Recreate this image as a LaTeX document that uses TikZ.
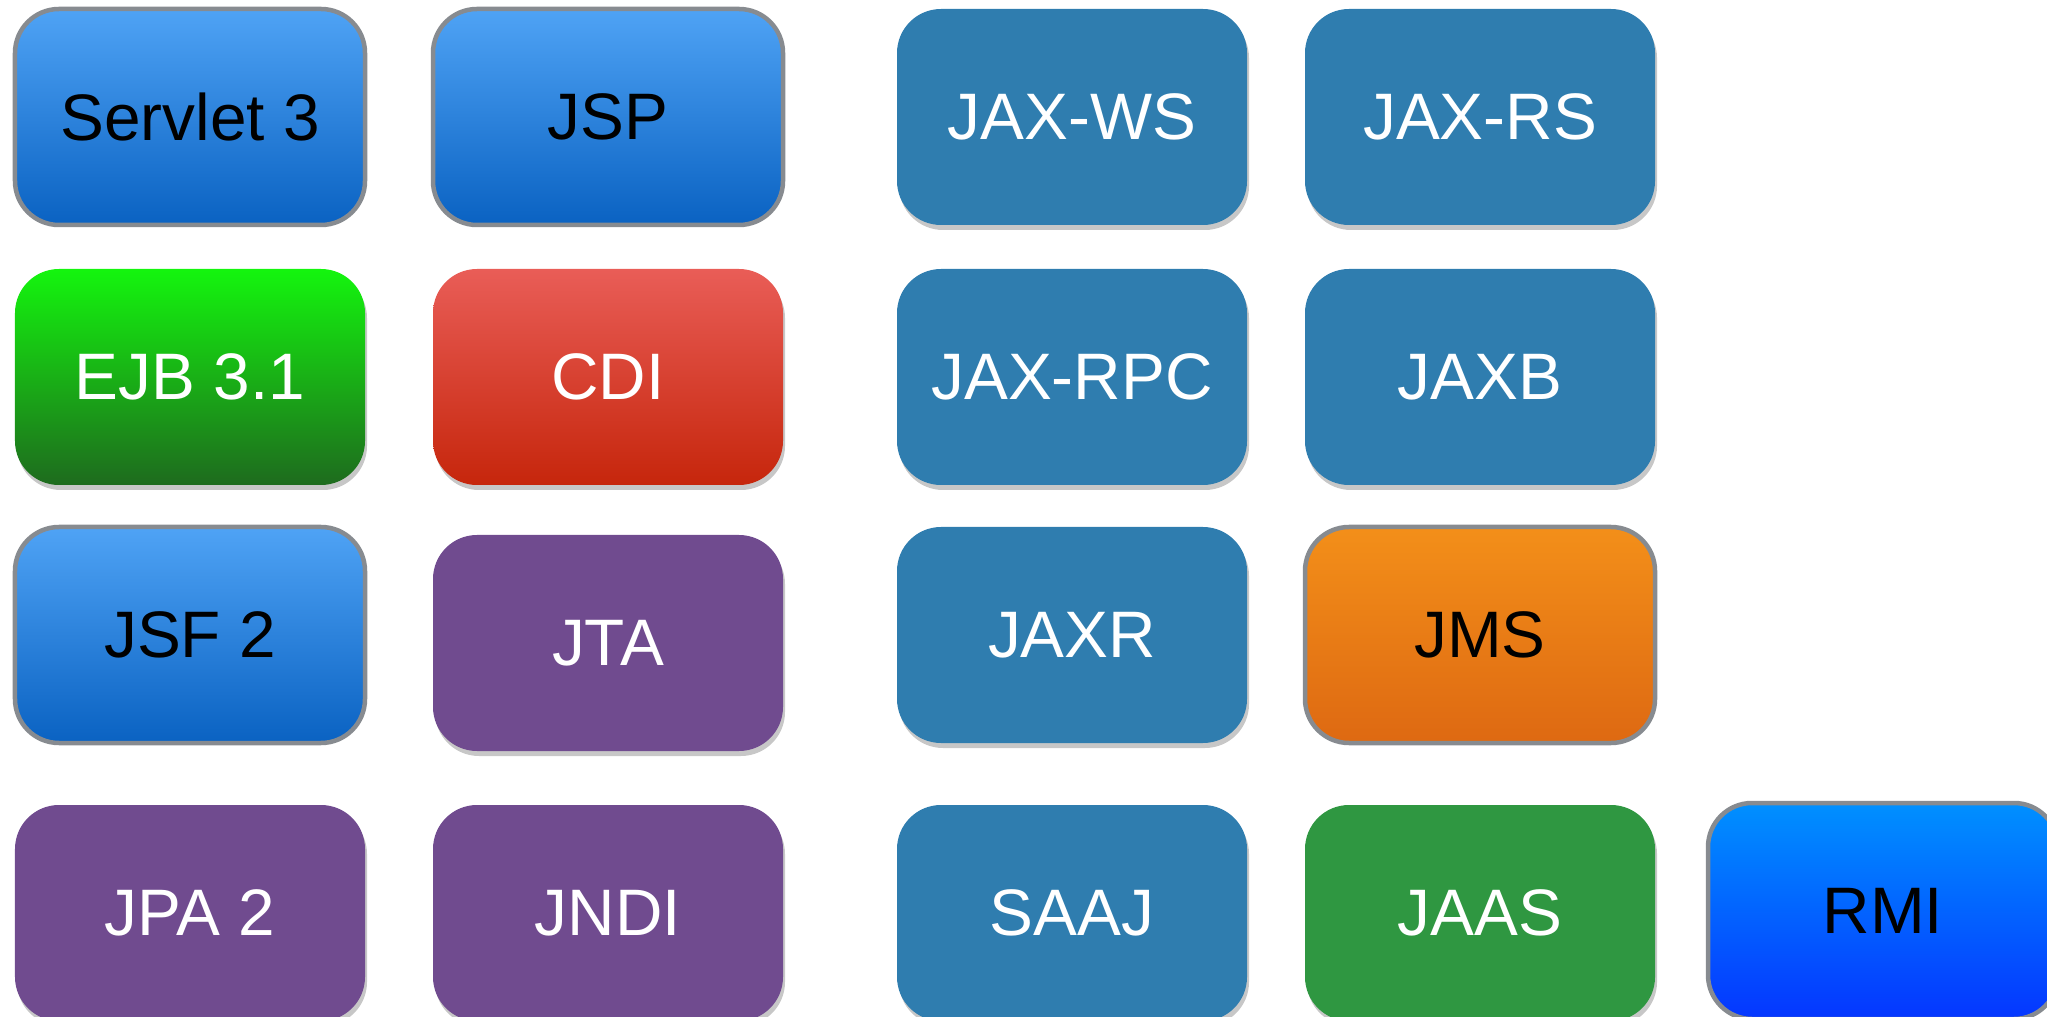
\documentclass[tikz,border=0pt]{standalone}
\usepackage{xcolor}
\usepackage{fontspec}
\setmainfont{Liberation Sans}
\usepackage{tikz}
\usetikzlibrary{
positioning,
shadows
}
\definecolor{webtop}{HTML}{4FA3F5}
\definecolor{webbot}{HTML}{0A62C2}
\definecolor{rim}{HTML}{878B90}
\definecolor{ejbtop}{HTML}{14F50E}
\definecolor{ejbbot}{HTML}{1E6B1E}
\definecolor{cditop}{HTML}{E95D57}
\definecolor{cdibot}{HTML}{C6260C}
\definecolor{feltpurple}{HTML}{704B8F}
\definecolor{feltblue}{HTML}{2F7DAF}
\definecolor{feltgreen}{HTML}{2F9741}
\definecolor{jmstop}{HTML}{F38F19}
\definecolor{jmsbot}{HTML}{DE6912}
\definecolor{rmitop}{HTML}{0090FF}
\definecolor{rmibot}{HTML}{0536FF}

\begin{document}
\begin{tikzpicture}[
tile/.style={
rectangle,
rounded corners=0.44cm,
minimum width=3.5cm,
minimum height=2.16cm,
inner sep=0pt,
outer sep=0pt,
align=center,
font=\fontsize{18.7}{22}\selectfont
},
framed/.style={
tile,
draw=rim,
line width=0.045cm,
text=black
},
shadowed/.style={
tile,
text=white,
drop shadow={shadow xshift=0.02cm, shadow yshift=-0.05cm, opacity=0.22, fill=black}
},
webbox/.style={framed, top color=webtop, bottom color=webbot},
jmsbox/.style={framed, top color=jmstop, bottom color=jmsbot},
rmibox/.style={framed, top color=rmitop, bottom color=rmibot},
ejbbox/.style={shadowed, top color=ejbtop, bottom color=ejbbot},
cdibox/.style={shadowed, top color=cditop, bottom color=cdibot},
purplebox/.style={shadowed, fill=feltpurple},
bluebox/.style={shadowed, fill=feltblue},
greenbox/.style={shadowed, fill=feltgreen}
]
\useasboundingbox (0,0) rectangle (20.47,-10.17);

\node[webbox] (servlet) at (1.90,-1.17) {Servlet 3};
\node[webbox, right=0.68cm of servlet] (jsp) {JSP};
\node[bluebox, right=1.14cm of jsp] (jaxws) {JAX-WS};
\node[bluebox, right=0.58cm of jaxws] (jaxrs) {JAX-RS};

\node[ejbbox, below=0.44cm of servlet] (ejb) {EJB 3.1};
\node[cdibox, below=0.44cm of jsp] (cdi) {CDI};
\node[bluebox, below=0.44cm of jaxws] (jaxrpc) {JAX-RPC};
\node[bluebox, below=0.44cm of jaxrs] (jaxb) {JAXB};

\node[webbox, below=0.42cm of ejb] (jsf) {JSF 2};
\node[purplebox, below=0.50cm of cdi] (jta) {JTA};
\node[bluebox, below=0.42cm of jaxrpc] (jaxr) {JAXR};
\node[jmsbox, below=0.42cm of jaxb] (jms) {JMS};

\node[purplebox, below=0.62cm of jsf] (jpa) {JPA 2};
\node[purplebox, below=0.54cm of jta] (jndi) {JNDI};
\node[bluebox, below=0.62cm of jaxr] (saaj) {SAAJ};
\node[greenbox, below=0.62cm of jms] (jaas) {JAAS};
\node[rmibox, right=0.53cm of jaas, yshift=0.02cm] (rmi) {RMI};

\end{tikzpicture}
\end{document}
